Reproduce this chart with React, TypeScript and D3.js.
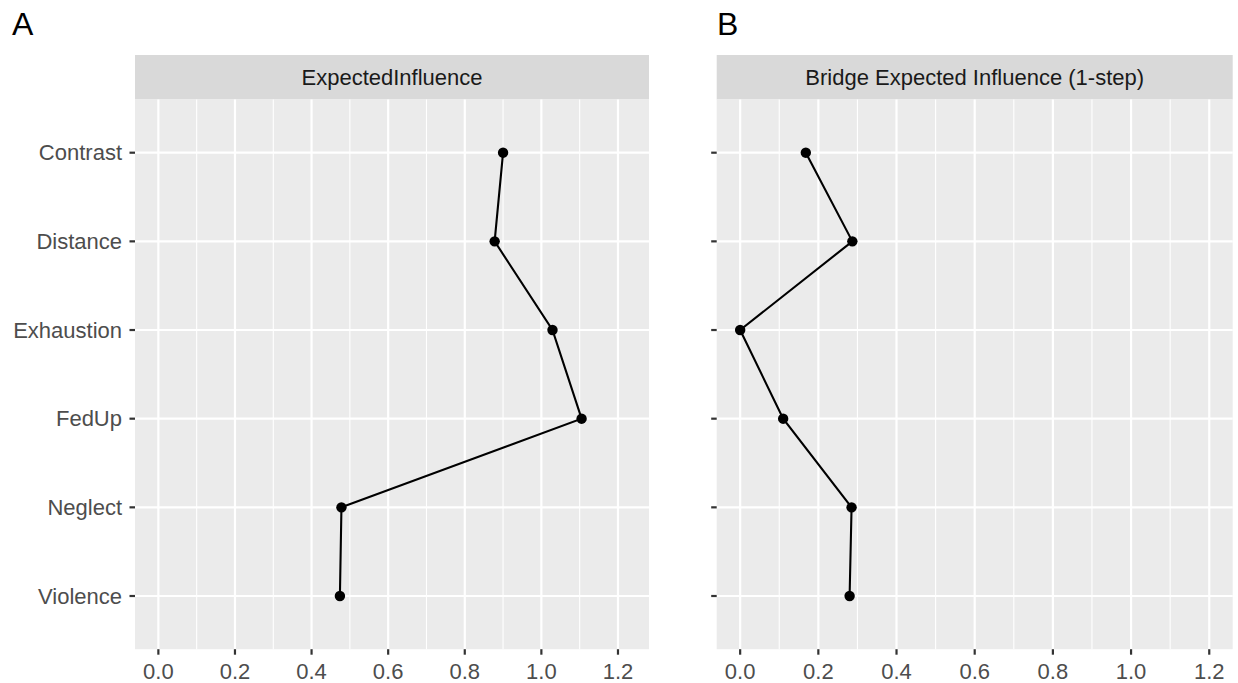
import React from "react";
import * as d3 from "d3";

// node names (y axis, top to bottom)
const nodes = ["Contrast", "Distance", "Exhaustion", "FedUp", "Neglect", "Violence"];

// panel A: ExpectedInfluence
const expectedInfluence = [0.9, 0.878, 1.029, 1.105, 0.478, 0.474];

// panel B: Bridge Expected Influence (1-step)
const bridgeInfluence = [0.168, 0.287, 0.0, 0.11, 0.285, 0.28];

const xTicks = [0, 0.2, 0.4, 0.6, 0.8, 1.0, 1.2];
const xMinor = [0.1, 0.3, 0.5, 0.7, 0.9, 1.1];

const W = 1238;
const H = 683;
const FONT = "'Liberation Sans', Arial, sans-serif";

const Panel = ({ title, values, left, right, top, bottom, stripTop, maxX, showLabels }) => {
  const span = maxX;
  const x = d3
    .scaleLinear()
    .domain([-0.05 * span, maxX + 0.05 * span])
    .range([left, right]);
  const y = d3.scalePoint().domain(nodes).range([top, bottom]).padding(0.6);
  const line = d3
    .line()
    .x((d) => x(d.v))
    .y((d) => y(d.n));
  const pts = nodes.map((n, i) => ({ n, v: values[i] }));

  return (
    <g>
      <rect x={left} y={stripTop} width={right - left} height={top - stripTop} fill="#D9D9D9" />
      <text
        x={(left + right) / 2}
        y={(stripTop + top) / 2 + 7.8}
        textAnchor="middle"
        fontSize={22}
        fill="#1A1A1A"
      >
        {title}
      </text>
      <rect x={left} y={top} width={right - left} height={bottom - top} fill="#EBEBEB" />
      {xMinor.map((t) => (
        <line key={"m" + t} x1={x(t)} x2={x(t)} y1={top} y2={bottom} stroke="#fff" strokeWidth={1.1} />
      ))}
      {xTicks.map((t) => (
        <line key={"g" + t} x1={x(t)} x2={x(t)} y1={top} y2={bottom} stroke="#fff" strokeWidth={2.2} />
      ))}
      {nodes.map((n) => (
        <line key={"h" + n} x1={left} x2={right} y1={y(n)} y2={y(n)} stroke="#fff" strokeWidth={2.2} />
      ))}
      <path d={line(pts)} fill="none" stroke="#000" strokeWidth={2.1} />
      {pts.map((d) => (
        <circle key={d.n} cx={x(d.v)} cy={y(d.n)} r={5.2} fill="#000" />
      ))}
      {/* x axis */}
      {xTicks.map((t) => (
        <g key={"xt" + t}>
          <line x1={x(t)} x2={x(t)} y1={bottom} y2={bottom + 5.5} stroke="#333" strokeWidth={2.2} />
          <text x={x(t)} y={bottom + 30} textAnchor="middle" fontSize={22} fill="#4D4D4D">
            {d3.format(".1f")(t)}
          </text>
        </g>
      ))}
      {/* y axis */}
      {nodes.map((n) => (
        <g key={"yt" + n}>
          <line x1={left - 5.5} x2={left} y1={y(n)} y2={y(n)} stroke="#333" strokeWidth={2.2} />
          {showLabels && (
            <text x={left - 13} y={y(n) + 7.8} textAnchor="end" fontSize={22} fill="#4D4D4D">
              {n}
            </text>
          )}
        </g>
      ))}
    </g>
  );
};

export default function App() {
  const top = 99.5;
  const bottom = 649.2;
  const stripTop = 55;
  return (
    <svg
      width={W}
      height={H}
      style={{ position: "absolute", left: 0, top: 0, background: "#fff" }}
      fontFamily={FONT}
    >
      <rect width={W} height={H} fill="#fff" />
      <text x={12} y={35} fontSize={32} fill="#000">
        A
      </text>
      <text x={717} y={35} fontSize={32} fill="#000">
        B
      </text>
      <Panel
        title="ExpectedInfluence"
        values={expectedInfluence}
        left={135}
        right={649}
        top={top}
        bottom={bottom}
        stripTop={stripTop}
        maxX={1.22}
        showLabels={true}
      />
      <Panel
        title="Bridge Expected Influence (1-step)"
        values={bridgeInfluence}
        left={716.7}
        right={1232.7}
        top={top}
        bottom={bottom}
        stripTop={stripTop}
        maxX={1.2}
        showLabels={false}
      />
    </svg>
  );
}
